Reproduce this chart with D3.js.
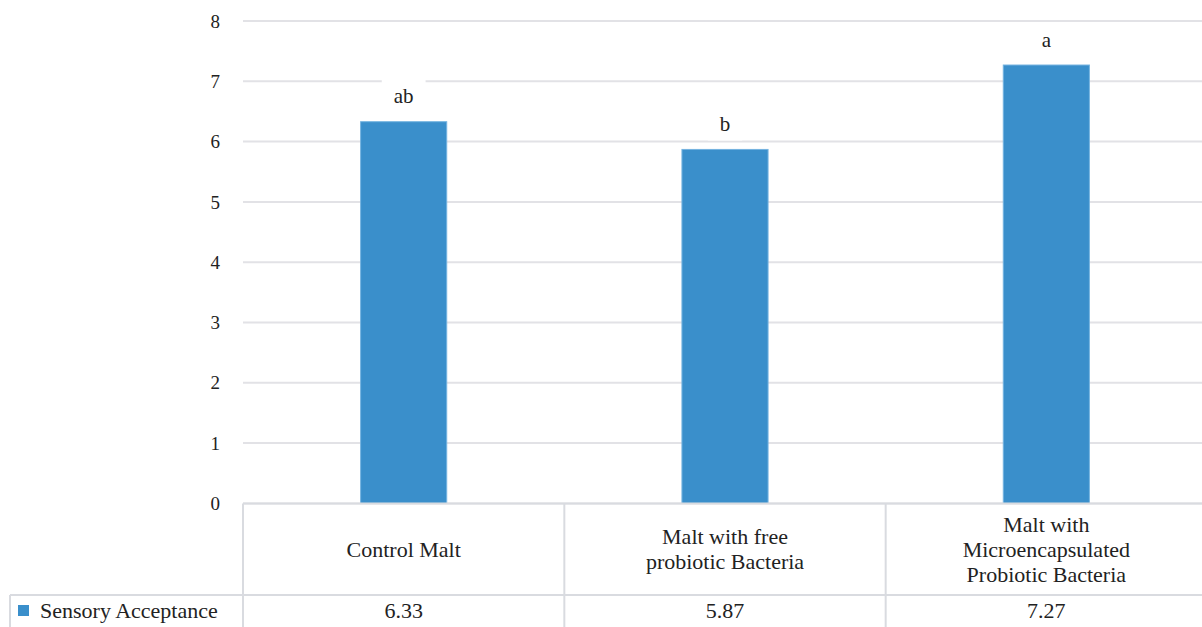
<!DOCTYPE html>
<html><head><meta charset="utf-8">
<script src="https://cdn.jsdelivr.net/npm/d3@7"></script>
<style>body{margin:0;background:#fff}svg{display:block}text{font-family:"Liberation Serif",serif;fill:#222}</style>
</head><body><svg id="c" width="1202" height="627"></svg>
<script>
const categories = [["Control Malt"], ["Malt with free", "probiotic Bacteria"], ["Malt with", "Microencapsulated", "Probiotic Bacteria"]];
const values = [6.33, 5.87, 7.27];
const valueLabels = ["6.33", "5.87", "7.27"];
const letters = ["ab", "b", "a"];
const seriesName = "Sensory Acceptance";
const yTicks = [0, 1, 2, 3, 4, 5, 6, 7, 8];

const svg = d3.select("#c");
const x = d3.scaleBand().domain(d3.range(categories.length)).range([243, 1207]).padding(0);
const y = d3.scaleLinear().domain([0, 8]).range([503.4, 21]);
const barW = x.bandwidth() * 0.268;
const grid = "#e2e2e6", tbl = "#d9dbe0", barC = "#3a8fcb";

svg.append("g").selectAll("line").data(yTicks).join("line")
  .attr("x1", 243).attr("x2", 1202).attr("y1", d => y(d)).attr("y2", d => y(d))
  .attr("stroke", grid).attr("stroke-width", 2);
svg.append("g").selectAll("text").data(yTicks).join("text")
  .attr("x", 220).attr("y", d => y(d)).attr("dy", "0.35em").attr("text-anchor", "end")
  .attr("font-size", 19).text(d => d);

svg.append("g").selectAll("rect").data(values).join("rect")
  .attr("x", (d, i) => x(i) + x.bandwidth() / 2 - barW / 2)
  .attr("y", d => y(d)).attr("width", barW).attr("height", d => y(0) - y(d))
  .attr("fill", barC).attr("stroke", "#74b3e0").attr("stroke-width", 1);

const lg = svg.append("g");
values.forEach((v, i) => {
  const cx = x(i) + x.bandwidth() / 2, cy = y(v) - 25;
  const t = lg.append("text").attr("x", cx).attr("y", cy).attr("dy", "0.32em")
    .attr("text-anchor", "middle").attr("font-size", 21).text(letters[i]);
  const w = t.node().getComputedTextLength() + 24;
  lg.insert("rect", "text").attr("x", cx - w / 2).attr("y", cy - 18).attr("width", w).attr("height", 34).attr("fill", "#fff");
});

const tg = svg.append("g");
const rowY = 595;
tg.append("line").attr("x1", 243).attr("x2", 1202).attr("y1", y(0)).attr("y2", y(0)).attr("stroke", tbl).attr("stroke-width", 2);
tg.append("line").attr("x1", 10).attr("x2", 1202).attr("y1", rowY).attr("y2", rowY).attr("stroke", tbl).attr("stroke-width", 2);
tg.append("line").attr("x1", 10).attr("x2", 10).attr("y1", rowY).attr("y2", 627).attr("stroke", tbl).attr("stroke-width", 2);
d3.range(categories.length + 1).forEach(i => {
  const xx = i < categories.length ? x(i) : x(i - 1) + x.bandwidth();
  tg.append("line").attr("x1", xx).attr("x2", xx).attr("y1", y(0)).attr("y2", 627).attr("stroke", tbl).attr("stroke-width", 2);
});
categories.forEach((lines, i) => {
  const cx = x(i) + x.bandwidth() / 2;
  const lh = 25, mid = 549;
  lines.forEach((s, k) => {
    tg.append("text").attr("x", cx).attr("y", mid + (k - (lines.length - 1) / 2) * lh).attr("dy", "0.35em")
      .attr("text-anchor", "middle").attr("font-size", 22).text(s);
  });
  tg.append("text").attr("x", cx).attr("y", 610).attr("dy", "0.35em").attr("text-anchor", "middle")
    .attr("font-size", 22).text(valueLabels[i]);
});
tg.append("rect").attr("x", 18).attr("y", 605).attr("width", 11).attr("height", 11).attr("fill", barC);
tg.append("text").attr("x", 40).attr("y", 610).attr("dy", "0.35em").attr("font-size", 22).text(seriesName);
</script></body></html>
